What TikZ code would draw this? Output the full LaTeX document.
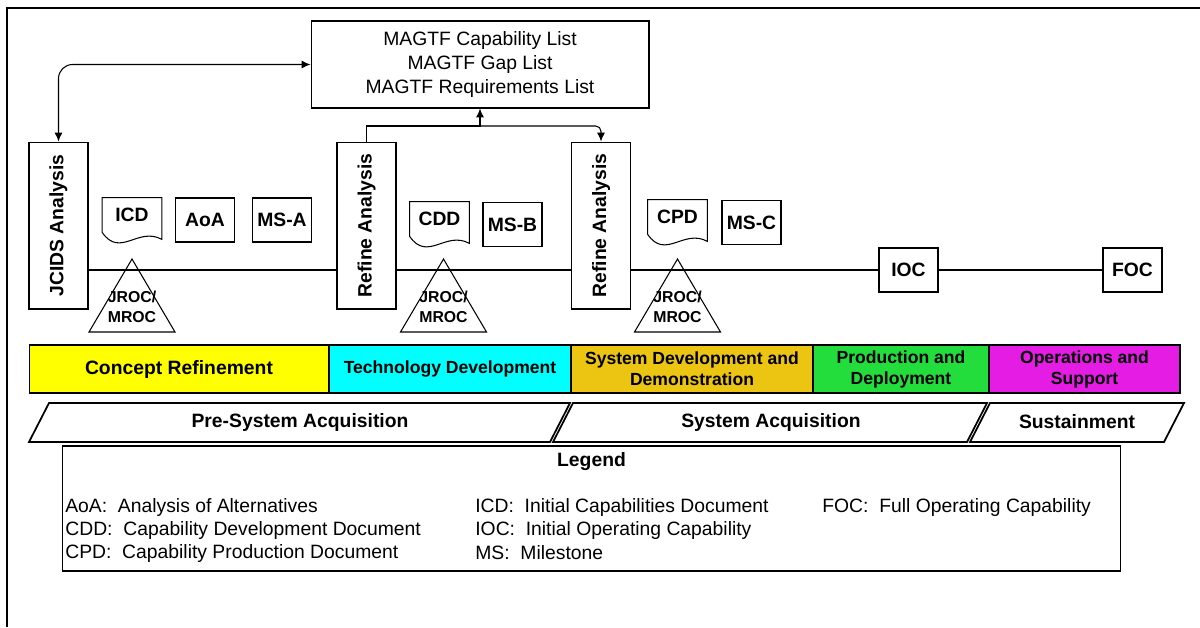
\documentclass[tikz,border=0pt]{standalone}
\usepackage{fontspec}
\setmainfont{Liberation Sans}
\usepackage{tikz}
\usetikzlibrary{arrows.meta}
\usetikzlibrary{calc}
\tikzset{vbox/.style = {draw, line width=0.6pt, minimum width=1.18cm, minimum height=3.34cm},
         vtext/.style = {rotate=90, font=\fontsize{11}{13}\selectfont\bfseries},
         mbox/.style = {draw, line width=0.6pt, minimum width=1.18cm, minimum height=0.88cm,
                        inner sep=0pt, font=\fontsize{11}{13}\selectfont\bfseries},
         doc/.style = {minimum width=1.18cm, minimum height=0.68cm, inner sep=0pt,
                       font=\fontsize{11}{13}\selectfont\bfseries},
         jroc/.style = {align=center, inner sep=0pt, font=\fontsize{9}{11.4}\selectfont\bfseries},
         phase/.style = {draw, line width=0.6pt, minimum height=0.96cm, inner sep=0pt,
                         align=center, font=\fontsize{10}{12}\selectfont\bfseries},
         acq/.style = {inner sep=0pt, font=\fontsize{11}{13}\selectfont\bfseries},
         legitem/.style = {anchor=west, inner sep=0pt, font=\fontsize{11}{13}\selectfont}}
\definecolor{cryellow}{rgb}{1, 1, 0}
\definecolor{tdcyan}{rgb}{0, 1, 1}
\definecolor{sddgold}{RGB}{236, 196, 18}
\definecolor{pdgreen}{RGB}{34, 221, 60}
\definecolor{osmagenta}{RGB}{228, 28, 228}

\begin{document}
\begin{tikzpicture}[x=0.02cm, y=-0.02cm, >={Latex[length=5pt, width=4.5pt]}]
    \useasboundingbox (0, 0) rectangle (1200, 627);
    \draw [line width=1.2pt] (1200, 8) -- (7, 8) -- (7, 627);

    \node [draw, line width=0.6pt, minimum width=6.76cm, minimum height=1.74cm, align=center,
           font=\fontsize{11}{13.4}\selectfont] (magtf) at (480, 64.5)
          {MAGTF Capability List\\ MAGTF Gap List\\ MAGTF Requirements List};

    \node [vbox, label={[vtext]center:JCIDS Analysis}] (jcids) at (58.5, 225.5) {};
    \node [vbox, label={[vtext]center:Refine Analysis}] (ref1) at (366.5, 225.5) {};
    \node [vbox, label={[vtext]center:Refine Analysis}] (ref2) at (601, 225.5) {};

    \node [doc] (icd) at (132, 215) {ICD};
    \node [doc] (cdd) at (439.5, 219) {CDD};
    \node [doc] (cpd) at (677.5, 217) {CPD};
    \foreach \d in {icd, cdd, cpd}
      \draw [line width=0.6pt] (\d.south west) -- (\d.north west) -- (\d.north east)
        -- ($(\d.south east) + (0, 7)$)
        .. controls ($(\d.south west)!0.6!(\d.south east) + (0, -6)$)
        and ($(\d.south west)!0.3!(\d.south east) + (0, 26)$) .. (\d.south west);

    \node [mbox] (aoa) at (205, 220) {AoA};
    \node [mbox] (msa) at (282, 220) {MS-A};
    \node [mbox] (msb) at (512.5, 224.5) {MS-B};
    \node [mbox] (msc) at (751.5, 222.5) {MS-C};
    \node [mbox] (ioc) at (908.5, 270) {IOC};
    \node [mbox] (foc) at (1132.5, 270) {FOC};

    \foreach \n/\x in {1/132, 2/443.5, 3/677.5} {
      \draw [line width=0.6pt] (\x, 259) -- (\x - 43, 332) -- (\x + 43, 332) -- cycle;
      \node [jroc] (jroc\n) at (\x, 307) {JROC/\\MROC};
    }

    \draw [line width=0.6pt] (jcids.east |- ioc) -- (ref1.west |- ioc);
    \draw [line width=0.6pt] (ref1.east |- ioc) -- (ref2.west |- ioc);
    \draw [line width=0.6pt] (ref2.east |- ioc) -- (ioc.west);
    \draw [line width=0.6pt] (ioc) -- (foc);

    \coordinate (junc) at (480, 126);
    \draw [<->, line width=0.6pt, rounded corners=8pt] (jcids.north) |- (magtf.west);
    \draw [->, line width=0.6pt] (ref1.north) |- (junc) -- (magtf.south);
    \draw [->, line width=0.6pt, rounded corners=3pt] (junc) -| (ref2.north);

    \node [phase, fill=cryellow, minimum width=6cm, font=\fontsize{11}{13}\selectfont\bfseries]
          (cr) at (179, 369) {Concept Refinement};
    \node [phase, fill=tdcyan, minimum width=4.84cm] (td) at (450, 369) {Technology Development};
    \node [phase, fill=sddgold, minimum width=4.84cm] (sdd) at (692, 369)
          {System Development and\\ Demonstration};
    \node [phase, fill=pdgreen, minimum width=3.52cm] (pd) at (901, 369) {Production and\\ Deployment};
    \node [phase, fill=osmagenta, minimum width=3.82cm] (os) at (1084.5, 369) {Operations and\\ Support};

    \foreach \a/\b in {29/550, 553/967, 970/1164}
      \draw [line width=1pt] (\a + 20, 403) -- (\b + 20, 403) -- (\b, 442) -- (\a, 442) -- cycle;
    \node [acq] (presys) at (300, 422) {Pre-System Acquisition};
    \node [acq] (sysacq) at (771, 422) {System Acquisition};
    \node [acq] (sustain) at (1077, 422) {Sustainment};

    \node [draw, line width=0.6pt, minimum width=21.18cm, minimum height=2.5cm] (legend) at (591.5, 508.5) {};
    \node [acq] (legtitle) at (591.5, 462) {Legend};
    \node [legitem] (l1) at (65, 507) {AoA:\ \ Analysis of Alternatives};
    \node [legitem] (l2) at (65, 530) {CDD:\ \ Capability Development Document};
    \node [legitem] (l3) at (65, 553) {CPD:\ \ Capability Production Document};
    \node [legitem] (l4) at (475, 507) {ICD:\ \ Initial Capabilities Document};
    \node [legitem] (l5) at (475, 530) {IOC:\ \ Initial Operating Capability};
    \node [legitem] (l6) at (475, 553) {MS:\ \ Milestone};
    \node [legitem] (l7) at (822, 507) {FOC:\ \ Full Operating Capability};
  \end{tikzpicture}
\end{document}
